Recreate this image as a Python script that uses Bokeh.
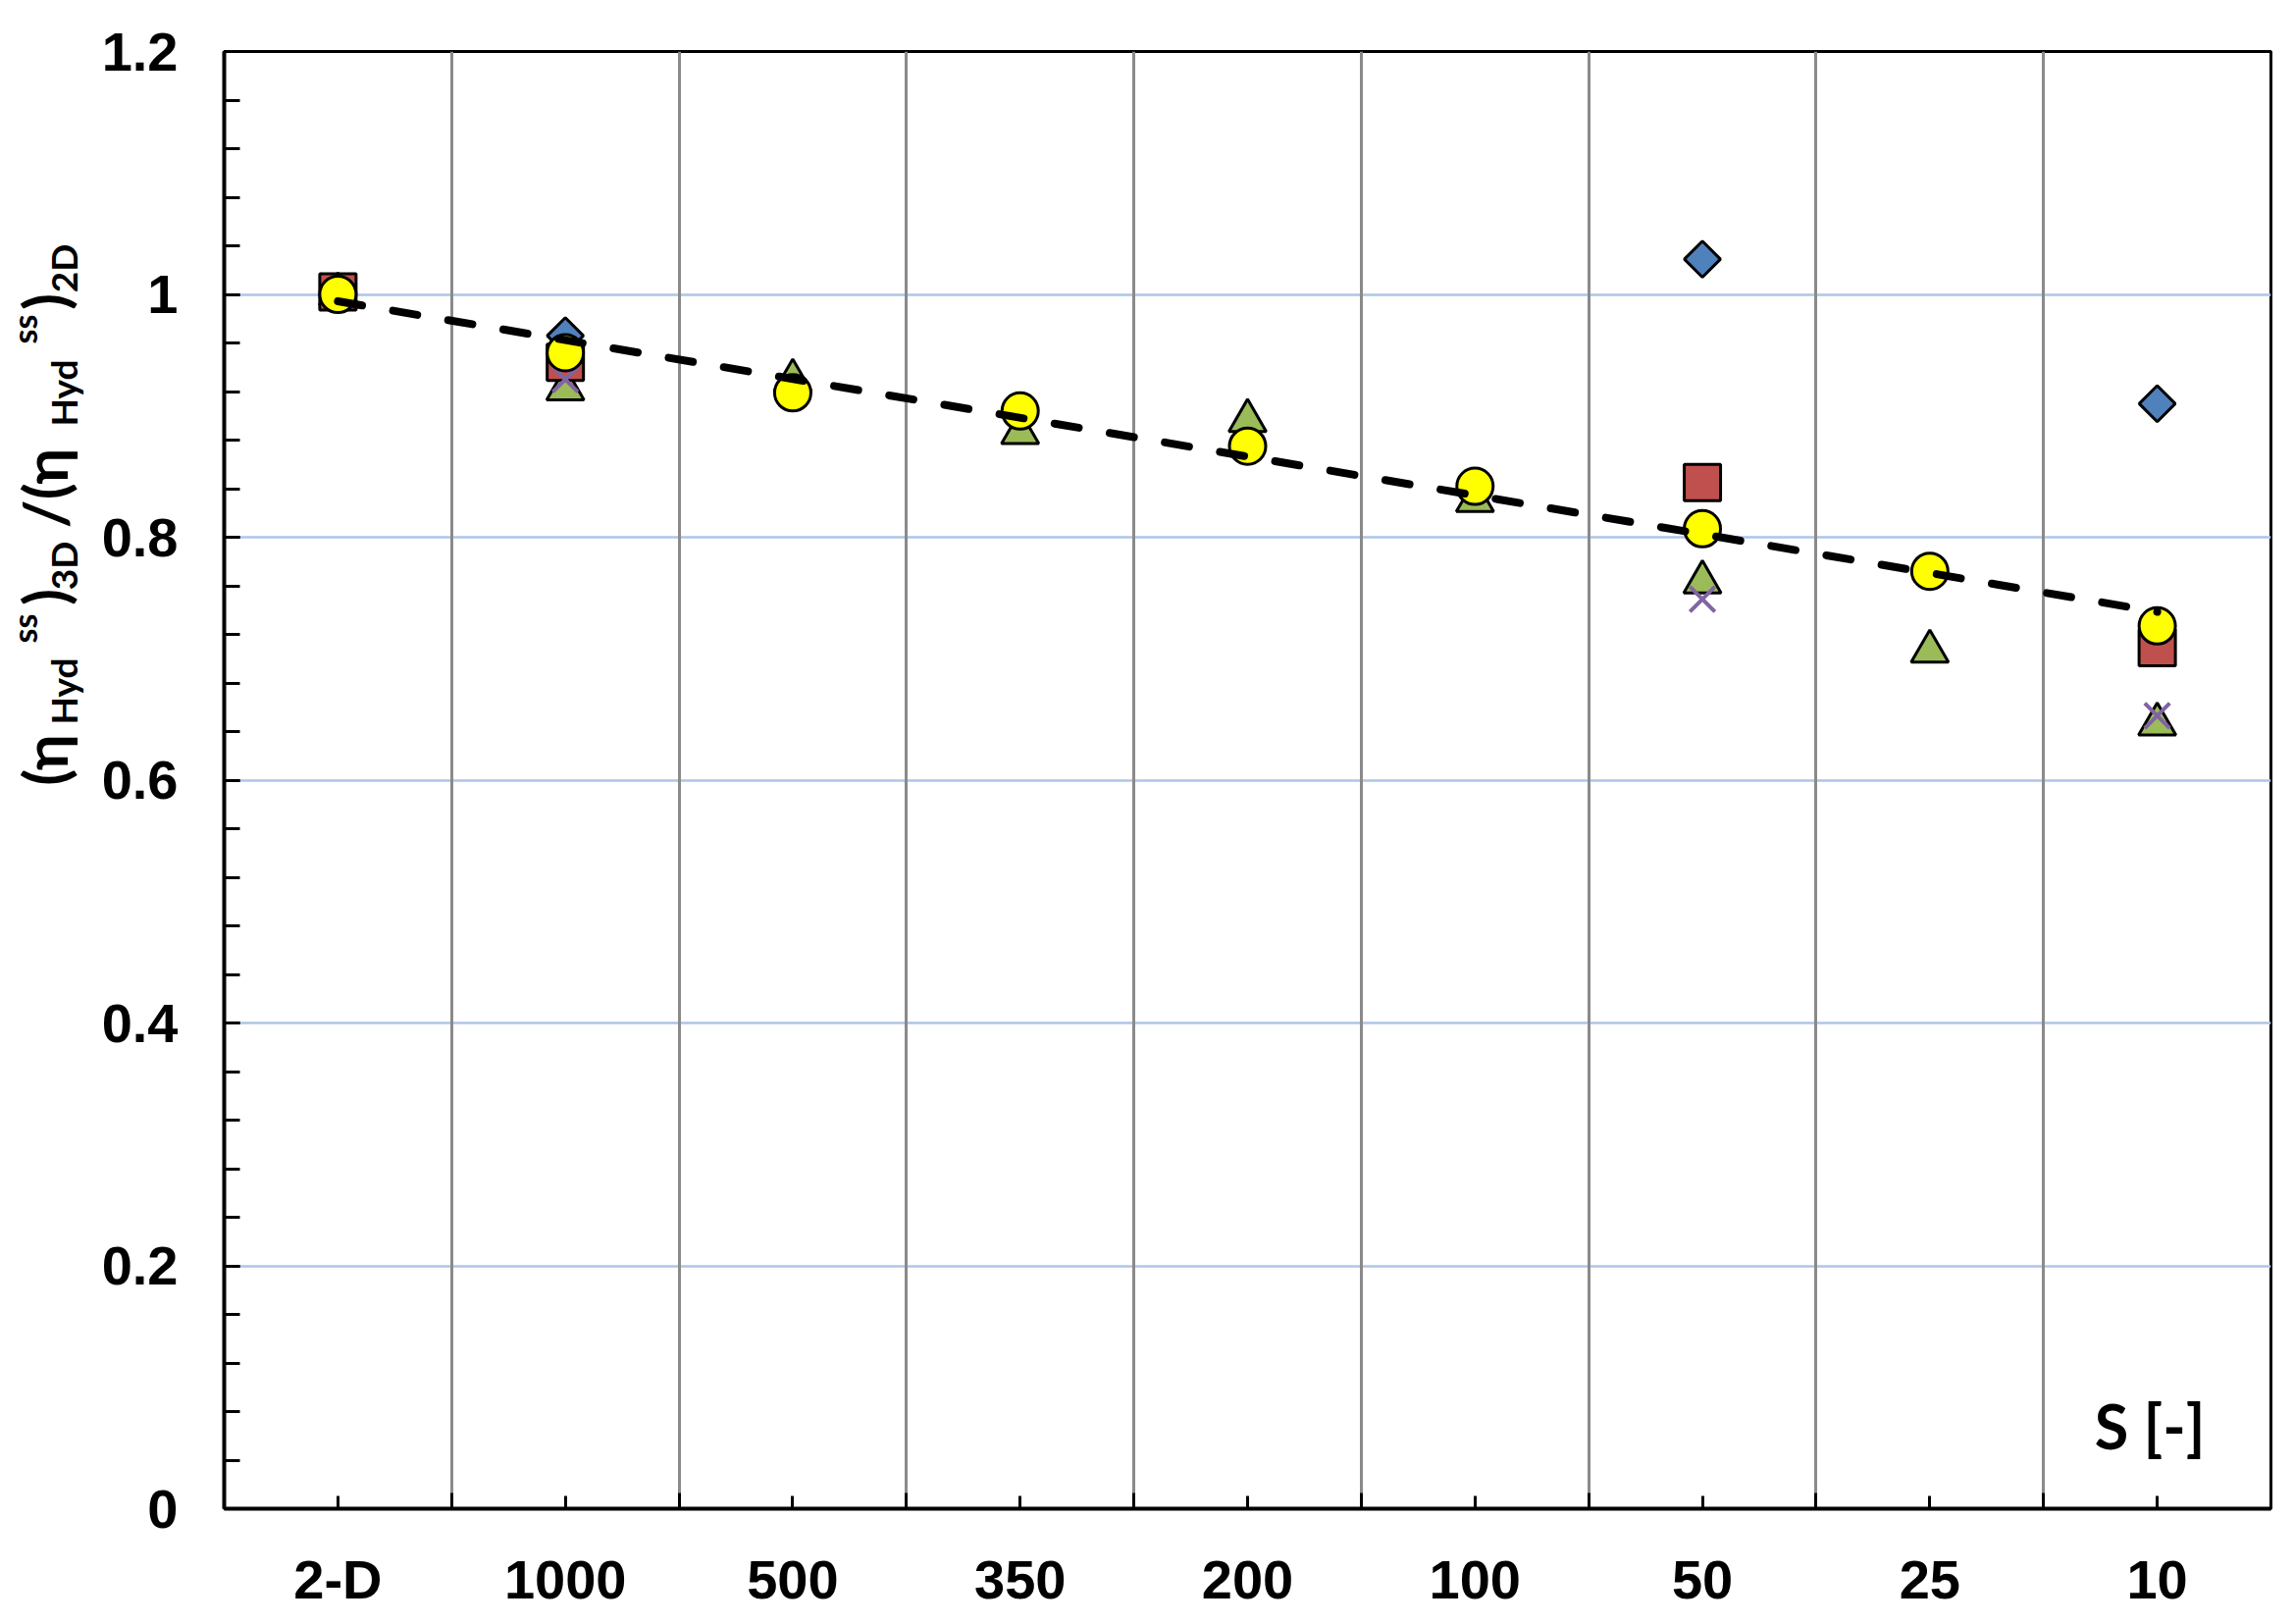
import numpy as np
from bokeh.plotting import figure
from bokeh.layouts import row
from bokeh.models import FixedTicker, Label, Range1d
from bokeh.embed import file_html
from bokeh.resources import INLINE

# ---------------- data ----------------
categories = ["2-D", "1000", "500", "350", "200", "100", "50", "25", "10"]
nan = float("nan")
series_diamond = [1.000, 0.966, nan, nan, nan, nan, 1.029, nan, 0.910]
series_square = [1.002, 0.944, nan, nan, nan, nan, 0.845, nan, 0.709]
series_triangle = [1.000, 0.922, 0.929, 0.886, 0.896, 0.830, 0.763, 0.706, 0.646]
series_cross = [1.000, 0.930, nan, nan, nan, nan, 0.749, nan, 0.653]
series_circle = [1.000, 0.952, 0.919, 0.904, 0.875, 0.842, 0.807, 0.772, 0.727]
y_ticks = [0, 0.2, 0.4, 0.6, 0.8, 1.0, 1.2]
y_tick_labels = ["0", "0.2", "0.4", "0.6", "0.8", "1", "1.2"]
x_axis_name = "S [-]"

xs = list(range(len(categories)))

W, H = 2338, 1655
TITLE_W = 95
FRAME_TOP, FRAME_BOTTOM = 52, 1537

# ---------------- main plot ----------------
p = figure(width=W - TITLE_W, height=H, x_range=(-0.5, len(categories) - 0.5), y_range=(0, 1.2),
           output_backend="svg", toolbar_location=None,
           min_border_left=228 - TITLE_W, min_border_right=24,
           min_border_top=FRAME_TOP, min_border_bottom=H - FRAME_BOTTOM)
p.background_fill_color = "white"
p.border_fill_color = "white"
p.outline_line_color = "black"
p.outline_line_width = 3

xticker = FixedTicker(ticks=xs, minor_ticks=[i + 0.5 for i in range(len(categories) - 1)])
yticker = FixedTicker(ticks=y_ticks, minor_ticks=[round(0.04 * i, 2) for i in range(31)])
p.xaxis.ticker = xticker
p.yaxis.ticker = yticker
p.xaxis.major_label_overrides = {i: c for i, c in enumerate(categories)}
p.yaxis.major_label_overrides = {t: l for t, l in zip(y_ticks, y_tick_labels)}

p.xgrid.ticker = xticker
p.xgrid.grid_line_color = None
p.xgrid.minor_grid_line_color = "#8a8a8a"
p.xgrid.minor_grid_line_width = 3
p.ygrid.ticker = yticker
p.ygrid.grid_line_color = "#AFC5E8"
p.ygrid.grid_line_width = 2.5
p.ygrid.minor_grid_line_color = None
p.center = [p.ygrid[0], p.xgrid[0]]

for ax in (p.xaxis[0], p.yaxis[0]):
    ax.axis_line_color = "black"
    ax.axis_line_width = 4
    ax.major_tick_line_color = "black"
    ax.minor_tick_line_color = "black"
    ax.major_tick_line_width = 3
    ax.minor_tick_line_width = 3
    ax.major_tick_out = 0
    ax.minor_tick_out = 0
    ax.major_label_text_font = "Liberation Sans"
    ax.major_label_text_font_style = "bold"
    ax.major_label_text_font_size = "56px"
    ax.major_label_text_color = "black"
p.xaxis.major_tick_in = 13
p.xaxis.minor_tick_in = 16
p.xaxis.major_label_standoff = 40
p.yaxis.major_tick_in = 16
p.yaxis.minor_tick_in = 16
p.yaxis.major_label_standoff = 47

# markers
p.scatter(xs, series_diamond, marker="square", angle=np.pi / 4, size=26,
          fill_color="#4F81BD", line_color="black", line_width=3)
p.scatter(xs, series_triangle, marker="triangle", size=38,
          fill_color="#9BBB59", line_color="black", line_width=3)
p.scatter(xs, series_square, marker="square", size=37,
          fill_color="#C0504D", line_color="black", line_width=3)
p.scatter(xs, series_cross, marker="x", size=36,
          line_color="#8064A2", line_width=4)
p.scatter(xs, series_circle, marker="circle", size=37,
          fill_color="#FFFF00", line_color="black", line_width=3)

# linear trend of the circle series
coef = np.polyfit(xs, series_circle, 1)
tx = [xs[0], xs[-1]]
p.line(tx, list(np.polyval(coef, tx)), line_color="black", line_width=8,
       line_dash="25 32", line_cap="round")

p.add_layout(Label(x=len(categories) - 0.5, y=0, x_offset=-67, y_offset=85,
                   text=x_axis_name, text_font="Lato", text_font_style="bold",
                   text_font_size="63px", text_color="black",
                   text_align="right", text_baseline="alphabetic"))

# ---------------- y-axis title panel ----------------
# frame of this panel is aligned with the main frame (rows align frames),
# so its y range is expressed in page pixels of that frame.
t = figure(width=TITLE_W, height=H, x_range=Range1d(0, TITLE_W),
           y_range=Range1d(H - FRAME_BOTTOM, H - FRAME_TOP),
           output_backend="svg", toolbar_location=None,
           x_axis_type=None, y_axis_type=None,
           min_border_left=0, min_border_right=0,
           min_border_top=FRAME_TOP, min_border_bottom=H - FRAME_BOTTOM)
t.outline_line_color = None
t.background_fill_color = "white"
t.border_fill_color = "white"
t.xgrid.visible = False
t.ygrid.visible = False

# (text, font px, centre x, centre y) in page pixels; rotated to read upward
pieces = [
    ("(η", 62, 44, 774),
    ("Hyd", 37, 64, 704),
    ("ss", 34, 24, 640),
    (")", 62, 44, 608),
    ("3D", 37, 64, 576),
    ("/(η", 62, 44, 497),
    ("Hyd", 37, 64, 400),
    ("ss", 34, 24, 335),
    (")", 62, 44, 307),
    ("2D", 37, 64, 273),
]
for txt, fs, cx, cy in pieces:
    t.add_layout(Label(x=cx, y=H - cy, text=txt, angle=90, angle_units="deg",
                       text_font="Lato", text_font_style="bold",
                       text_font_size=f"{fs}px", text_color="black",
                       text_align="center", text_baseline="middle"))

open("out.html", "w").write(file_html(row(t, p), INLINE))
